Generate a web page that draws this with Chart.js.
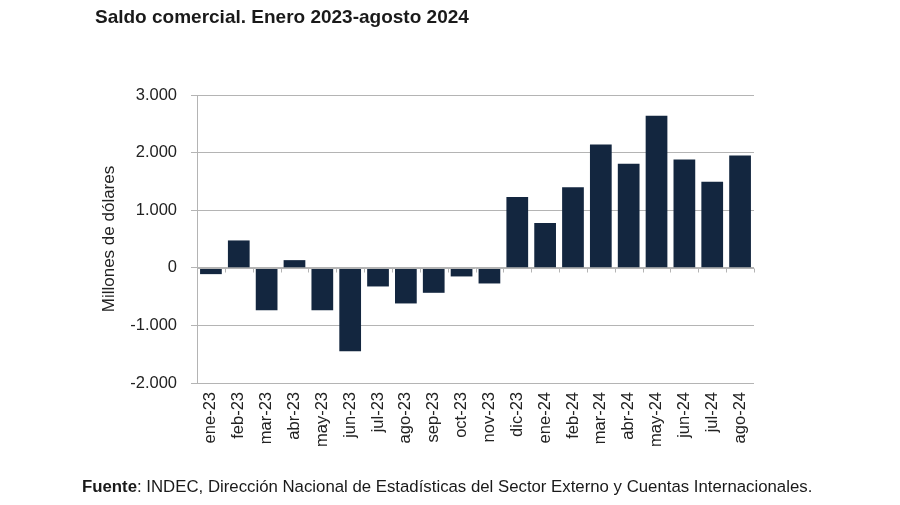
<!DOCTYPE html>
<html>
<head>
<meta charset="utf-8">
<script src="https://cdn.jsdelivr.net/npm/chart.js@4.4.1/dist/chart.umd.min.js"></script>
<style>
  html, body { margin: 0; padding: 0; background: #ffffff; }
  #wrap { position: relative; width: 900px; height: 505px; overflow: hidden; }
  #c { position: absolute; left: 0; top: 0; }
  #title { position: absolute; left: 95px; top: 6px; font-family: "Liberation Sans", Arial, sans-serif; font-weight: bold; font-size: 19px; color: #1a1a1a; white-space: nowrap; }
  #src { position: absolute; left: 82px; top: 477px; font-family: "Liberation Sans", Arial, sans-serif; font-size: 16.8px; color: #1a1a1a; white-space: nowrap; }
</style>
</head>
<body>
<div id="wrap">
  <canvas id="c" width="900" height="505"></canvas>
  <div id="title">Saldo comercial. Enero 2023-agosto 2024</div>
  <div id="src"><b>Fuente</b>: INDEC, Dirección Nacional de Estadísticas del Sector Externo y Cuentas Internacionales.</div>
</div>
<script>
const months = ["ene-23","feb-23","mar-23","abr-23","may-23","jun-23","jul-23","ago-23","sep-23","oct-23","nov-23","dic-23",
                "ene-24","feb-24","mar-24","abr-24","may-24","jun-24","jul-24","ago-24"];
const saldo = [-110, 475, -735, 133, -735, -1447, -324, -619, -434, -150, -272, 1227,
               776, 1400, 2141, 1806, 2640, 1881, 1493, 1950];
const yTicks = [-2000, -1000, 0, 1000, 2000, 3000];
const yTitle = "Millones de dólares";

const FONT = '"Liberation Sans", Arial, sans-serif';
const GRID = '#b4b4b4';

const zeroTicks = {
  id: 'zeroTicks',
  afterDatasetsDraw(chart) {
    const ctx = chart.ctx, x = chart.scales.x, y = chart.scales.y;
    const y0 = Math.round(y.getPixelForValue(0)) + 0.5;
    ctx.save();
    ctx.strokeStyle = GRID;
    ctx.lineWidth = 1;
    ctx.beginPath();
    const n = months.length;
    const step = (x.right - x.left) / n;
    for (let i = 1; i <= n; i++) {
      const px = Math.round(x.left + step * i) + 0.5;
      ctx.moveTo(px, y0);
      ctx.lineTo(px, y0 + 4);
    }
    ctx.moveTo(x.left, y0); ctx.lineTo(x.right, y0);
    ctx.stroke();
    ctx.restore();
  }
};

new Chart(document.getElementById('c'), {
  type: 'bar',
  data: {
    labels: months,
    datasets: [{
      data: saldo,
      backgroundColor: '#13263f',
      borderWidth: 0,
      barPercentage: 0.78,
      categoryPercentage: 1.0
    }]
  },
  options: {
    responsive: false,
    animation: false,
    devicePixelRatio: 1,
    layout: { padding: { left: 95, right: 146, top: 95, bottom: 40 } },
    plugins: { legend: { display: false }, tooltip: { enabled: false }, title: { display: false } },
    scales: {
      x: {
        grid: { display: false, drawTicks: false },
        border: { display: false },
        ticks: {
          minRotation: 90, maxRotation: 90, padding: 9,
          color: '#222', font: { family: FONT, size: 16.5 }, autoSkip: false
        },
        afterFit(s) { s.height = 82; }
      },
      y: {
        min: -2000, max: 3000,
        afterBuildTicks(s) { s.ticks = yTicks.map(v => ({ value: v })); },
        grid: { color: GRID, lineWidth: 1, tickLength: 6, drawTicks: true },
        border: { display: true, color: GRID, width: 1 },
        ticks: {
          padding: 14, color: '#222', font: { family: FONT, size: 16.5 },
          callback: v => v.toLocaleString('de-DE')
        },
        title: { display: true, text: yTitle, color: '#222', font: { family: FONT, size: 17 }, padding: { top: 4, bottom: 0 } },
        afterFit(s) { s.width = 102; }
      }
    }
  },
  plugins: [zeroTicks]
});
</script>
</body>
</html>
